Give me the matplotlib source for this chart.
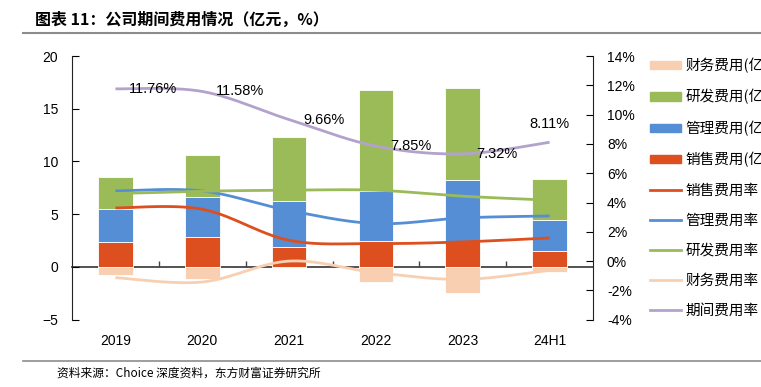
import numpy as np
import matplotlib.pyplot as plt
from matplotlib.patches import Patch
from matplotlib.lines import Line2D

plt.rcParams['font.family'] = ['Liberation Sans', 'Noto Sans CJK SC', 'DejaVu Sans']

years = ['2019', '2020', '2021', '2022', '2023', '24H1']

# 费用（亿元）
sales = [2.40, 2.80, 1.90, 2.43, 2.46, 1.52]
admin = [3.10, 3.87, 4.35, 4.77, 5.74, 2.93]
rnd = [3.00, 3.93, 6.05, 9.60, 8.80, 3.92]
finance = [-0.76, -1.14, 0.03, -1.45, -2.50, -0.50]

# 费用率（%）
sales_rate = [3.63, 3.54, 1.42, 1.20, 1.31, 1.58]
admin_rate = [4.79, 4.79, 3.45, 2.56, 2.95, 3.08]
rnd_rate = [4.61, 4.77, 4.84, 4.84, 4.43, 4.16]
fin_rate = [-1.13, -1.43, 0.00, -0.79, -1.25, -0.63]
period_rate = [11.76, 11.58, 9.66, 7.85, 7.32, 8.11]

c_fin = '#F9CFB2'
c_rnd = '#9BBB59'
c_adm = '#558ED5'
c_sal = '#DD4F1E'
c_per = '#B3A2CC'


def smooth(x, y, n=30):
    # 类似Excel平滑线的Catmull-Rom曲线
    x = np.asarray(x, float)
    y = np.asarray(y, float)
    px = np.concatenate([[x[0]], x, [x[-1]]])
    py = np.concatenate([[y[0]], y, [y[-1]]])
    xs, ys = [], []
    t = np.linspace(0, 1, n)
    for i in range(1, len(px) - 2):
        p0, p1, p2, p3 = [np.array([px[j], py[j]]) for j in (i - 1, i, i + 1, i + 2)]
        c1 = p1 + (p2 - p0) / 6
        c2 = p2 - (p3 - p1) / 6
        b = ((1 - t) ** 3)[:, None] * p1 + (3 * (1 - t) ** 2 * t)[:, None] * c1 \
            + (3 * (1 - t) * t ** 2)[:, None] * c2 + (t ** 3)[:, None] * p2
        xs.append(b[:, 0])
        ys.append(b[:, 1])
    return np.concatenate(xs), np.concatenate(ys)


fig = plt.figure(figsize=(7.61, 3.87), dpi=100)
ax = fig.add_axes([72 / 761, 1 - 319.7 / 387, (593 - 72) / 761, (319.7 - 56) / 387])

x = np.arange(len(years))
w = 0.4
pos_fin = np.clip(finance, 0, None)
neg_fin = np.clip(finance, None, 0)
ekw = dict(edgecolor='white', linewidth=0.6)
ax.bar(x, neg_fin, w, color=c_fin, **ekw)
ax.bar(x, pos_fin, w, color=c_fin, **ekw)
ax.bar(x, sales, w, bottom=pos_fin, color=c_sal, **ekw)
b2 = pos_fin + np.array(sales)
ax.bar(x, admin, w, bottom=b2, color=c_adm, **ekw)
b3 = b2 + np.array(admin)
ax.bar(x, rnd, w, bottom=b3, color=c_rnd, **ekw)

ax.set_xlim(-0.5, len(years) - 0.5)
ax.set_ylim(-5, 20)
ax.set_yticks([-5, 0, 5, 10, 15, 20])
ax.set_xticks(x)
ax.set_xticklabels(years)
ax.tick_params(axis='x', length=0, pad=10, labelsize=10)
ax.tick_params(axis='y', direction='in', length=5, pad=10, labelsize=10)
ax.spines['top'].set_visible(False)
ax.spines['bottom'].set_visible(False)
ax.spines['right'].set_visible(False)
ax.spines['left'].set_color('#222222')

# 零线及分隔刻度
sec = ax.secondary_xaxis(5 / 25)
sec.set_xticks(x[:-1] + 0.5)
sec.set_xticklabels([])
sec.tick_params(direction='in', length=4, color='#444444', width=1)
sec.spines['bottom'].set_color('#444444')
sec.spines['bottom'].set_linewidth(1.3)

ax2 = ax.twinx()
ax2.set_ylim(-4, 14)
ax2.set_yticks(range(-4, 15, 2))
ax2.set_yticklabels([f'{v}%' for v in range(-4, 15, 2)])
ax2.tick_params(axis='y', direction='in', length=5, pad=10, labelsize=10)
for s in ('top', 'bottom', 'left'):
    ax2.spines[s].set_visible(False)
ax2.spines['right'].set_color('#222222')

lw = 2.0
for vals, col in [(sales_rate, c_sal), (admin_rate, c_adm), (rnd_rate, c_rnd),
                  (fin_rate, c_fin), (period_rate, c_per)]:
    sx, sy = smooth(x, vals)
    ax2.plot(sx, sy, color=col, lw=lw, solid_capstyle='butt')

for i, v in enumerate(period_rate):
    if i == len(period_rate) - 1:
        ax2.annotate(f'{v:.2f}%', (x[i], v), xytext=(0, 8), textcoords='offset points',
                     ha='center', va='bottom', fontsize=10.5)
    else:
        ax2.annotate(f'{v:.2f}%', (x[i], v), xytext=(10, 0), textcoords='offset points',
                     ha='left', va='center', fontsize=10.5)

handles = [
    Patch(color=c_fin, label='财务费用(亿元)'),
    Patch(color=c_rnd, label='研发费用(亿元)'),
    Patch(color=c_adm, label='管理费用(亿元)'),
    Patch(color=c_sal, label='销售费用(亿元)'),
    Line2D([], [], color=c_sal, lw=2, label='销售费用率'),
    Line2D([], [], color=c_adm, lw=2, label='管理费用率'),
    Line2D([], [], color=c_rnd, lw=2, label='研发费用率'),
    Line2D([], [], color=c_fin, lw=2, label='财务费用率'),
    Line2D([], [], color=c_per, lw=2, label='期间费用率'),
]
fig.legend(handles=handles, loc='upper left', bbox_to_anchor=(650 / 761, 1 - 58 / 387),
           frameon=False, prop={'family': ['Noto Sans CJK SC'], 'size': 10.5},
           handlelength=2.1, handleheight=0.5, handletextpad=0.35, labelspacing=1.1,
           borderaxespad=0, borderpad=0)

fig.text(35 / 761, 1 - 20 / 387, '图表 11：公司期间费用情况（亿元，%）', fontsize=11.5,
         fontweight='bold', va='center', ha='left', family=['Noto Sans CJK SC'])
fig.add_artist(Line2D([23 / 761, 1], [1 - 33 / 387] * 2, color='#8C8C8C', lw=1.5))
fig.add_artist(Line2D([23 / 761, 1], [1 - 361 / 387] * 2, color='#8C8C8C', lw=1.2))
fig.text(57 / 761, 1 - 373 / 387, '资料来源：Choice 深度资料，东方财富证券研究所', fontsize=8.5,
         va='center', ha='left', family=['Noto Sans CJK SC'])

fig.savefig('out.png', dpi=100)
